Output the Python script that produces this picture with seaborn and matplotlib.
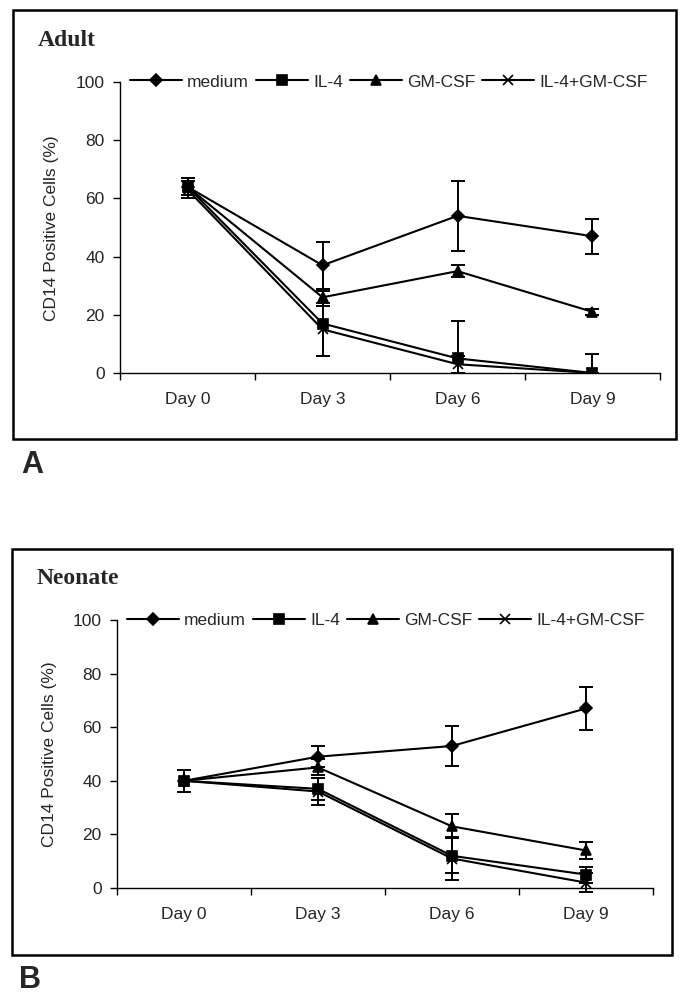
import pandas as pd
import numpy as np
import matplotlib
matplotlib.use("Agg")
import matplotlib.pyplot as plt
from matplotlib.ticker import FixedLocator
from matplotlib.patches import Rectangle
import seaborn as sns

days = ["Day 0", "Day 3", "Day 6", "Day 9"]
treatments = ["medium", "IL-4", "GM-CSF", "IL-4+GM-CSF"]

# Adult (panel A)
adult_medium = [64, 37, 54, 47]
adult_il4 = [64, 17, 5, 0]
adult_gmcsf = [64, 26, 35, 21]
adult_combo = [63, 15, 3, 0]
adult_medium_err = [3, 8, 12, 6]
adult_il4_err = [3, 11, 13, 6.5]
adult_gmcsf_err = [3, 3, 2, 1]
adult_combo_err = [3, 9, 3, 0]

# Neonate (panel B)
neo_medium = [40, 49, 53, 67]
neo_il4 = [40, 37, 12, 5]
neo_gmcsf = [40, 45, 23, 14]
neo_combo = [40, 36, 11, 2]
neo_medium_err = [4, 4, 7.5, 8]
neo_il4_err = [4, 4, 6.5, 3]
neo_gmcsf_err = [4, 3, 4.5, 3]
neo_combo_err = [4, 5, 8, 3.5]

markers = {"medium": "D", "IL-4": "s", "GM-CSF": "^", "IL-4+GM-CSF": "x"}
msizes = {"medium": 6.5, "IL-4": 7, "GM-CSF": 7.5, "IL-4+GM-CSF": 7}

sns.set_style("white")
plt.rcParams["font.family"] = ["Liberation Sans", "DejaVu Sans"]


def long_df(values, errs):
    rows = []
    for t, vals, es in zip(treatments, values, errs):
        for d, v, e in zip(days, vals, es):
            rows.append({"day": d, "treatment": t, "pct": v, "err": e})
    return pd.DataFrame(rows)


def draw_panel(ax, df, clip):
    for t in treatments:
        sub = df[df.treatment == t]
        sns.lineplot(data=sub, x="day", y="pct", color="black", marker=markers[t],
                     markersize=msizes[t], markeredgewidth=1.2, markeredgecolor="black",
                     linewidth=1.5, errorbar=None, sort=False, label=t, ax=ax)
        ax.errorbar(sub["day"], sub["pct"], yerr=sub["err"], fmt="none",
                    ecolor="black", elinewidth=1.4, capsize=5, capthick=1.4,
                    clip_on=clip)
    ax.set_xlim(-0.5, 3.5)
    ax.set_ylim(0, 100)
    ax.set_yticks([0, 20, 40, 60, 80, 100])
    ax.xaxis.set_minor_locator(FixedLocator([-0.5, 0.5, 1.5, 2.5, 3.5]))
    ax.tick_params(axis="x", which="major", length=0, pad=14, labelsize=12.5)
    ax.tick_params(axis="x", which="minor", length=5, width=1, direction="out",
                   bottom=True, color="black")
    ax.tick_params(axis="y", length=5, width=1, direction="out", left=True,
                   pad=6, labelsize=12.5, color="black")
    ax.set_xlabel("")
    ax.set_ylabel("")
    sns.despine(ax=ax)
    for s in ["left", "bottom"]:
        ax.spines[s].set_color("black")
        ax.spines[s].set_linewidth(1)
    sns.move_legend(ax, "center left", bbox_to_anchor=(0.005, 1.0), ncol=4,
                    frameon=False, title=None, fontsize=12.5, handlelength=3.0,
                    columnspacing=0.4, handletextpad=0.3, borderaxespad=0)


fig = plt.figure(figsize=(6.85, 10.01), dpi=100)

ax_a = fig.add_axes([0.1752, 0.6274, 0.7883, 0.2907])
ax_b = fig.add_axes([0.1708, 0.1129, 0.7825, 0.2677])

draw_panel(ax_a, long_df([adult_medium, adult_il4, adult_gmcsf, adult_combo],
                         [adult_medium_err, adult_il4_err, adult_gmcsf_err, adult_combo_err]), True)
draw_panel(ax_b, long_df([neo_medium, neo_il4, neo_gmcsf, neo_combo],
                         [neo_medium_err, neo_il4_err, neo_gmcsf_err, neo_combo_err]), False)

# frames around each panel
fig.patches.append(Rectangle((0.0185, 0.5614), 0.9683, 0.4286, transform=fig.transFigure,
                             fill=False, edgecolor="black", linewidth=1.8))
fig.patches.append(Rectangle((0.0175, 0.0460), 0.9635, 0.4056, transform=fig.transFigure,
                             fill=False, edgecolor="black", linewidth=1.8))

fig.text(38 / 685, 1 - 40 / 1001, "Adult", family=["Liberation Serif"], weight="bold",
         fontsize=17, ha="left", va="center")
fig.text(37 / 685, 1 - 578 / 1001, "Neonate", family=["Liberation Serif"], weight="bold",
         fontsize=17, ha="left", va="center")

fig.text(52 / 685, 1 - 228 / 1001, "CD14 Positive Cells (%)", rotation=90,
         fontsize=12.5, ha="center", va="center")
fig.text(50 / 685, 1 - 754 / 1001, "CD14 Positive Cells (%)", rotation=90,
         fontsize=12.5, ha="center", va="center")

fig.text(21 / 685, 1 - 465 / 1001, "A", weight="bold", fontsize=22, ha="left", va="center")
fig.text(19 / 685, 1 - 980 / 1001, "B", weight="bold", fontsize=22, ha="left", va="center")

fig.savefig("out.png", dpi=100)
